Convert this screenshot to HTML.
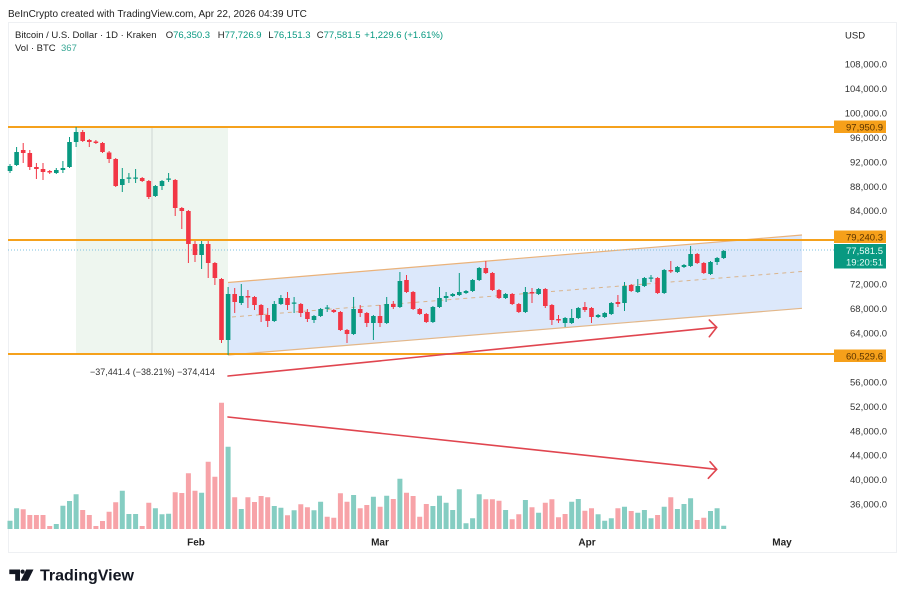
<!DOCTYPE html>
<html><head><meta charset="utf-8"><style>
html,body{margin:0;padding:0;background:#fff;}
svg{display:block;}
text{font-family:"Liberation Sans",sans-serif;}
</style></head><body>
<svg width="905" height="600" viewBox="0 0 905 600" xmlns="http://www.w3.org/2000/svg">
<rect x="0" y="0" width="905" height="600" fill="#fff"/>
<text x="8" y="17" font-size="10" fill="#222">BeInCrypto created with TradingView.com, Apr 22, 2026 04:39 UTC</text>
<rect x="8.5" y="22.5" width="888" height="530" fill="none" stroke="#eef0f3" stroke-width="1"/>

<!-- green zone -->
<rect x="76" y="127" width="152" height="227" fill="#eef6ef"/>
<line x1="152" y1="127" x2="152" y2="354" stroke="#cdd6d3" stroke-width="1"/>

<!-- channel -->
<polygon points="228,282.5 802,235 802,308.3 228,355" fill="#dce8fb"/>
<line x1="228" y1="282.5" x2="802" y2="235" stroke="#eab27a" stroke-width="1.2"/>
<line x1="228" y1="355" x2="802" y2="308.3" stroke="#e3b789" stroke-width="1.2"/>
<line x1="232" y1="317" x2="802" y2="271.5" stroke="#d9b48c" stroke-width="1" stroke-dasharray="4 4"/>

<!-- horizontal lines -->
<line x1="8" y1="127" x2="834" y2="127" stroke="#f5a11c" stroke-width="2"/>
<line x1="8" y1="240" x2="834" y2="240" stroke="#f5a11c" stroke-width="2"/>
<line x1="8" y1="354" x2="834" y2="354" stroke="#f5a11c" stroke-width="2"/>
<line x1="8" y1="250" x2="834" y2="250" stroke="#7fc0dc" stroke-width="1" stroke-dasharray="1 2"/>

<!-- volume -->
<path fill="#85cdc2" d="M7.5 520.7h5V529h-5zM14.1 508.3h5V529h-5zM53.8 524h5V529h-5zM60.4 505.7h5V529h-5zM67 501h5V529h-5zM73.6 494.3h5V529h-5zM119.8 490.7h5V529h-5zM126.4 514h5V529h-5zM133.1 514h5V529h-5zM152.9 508.3h5V529h-5zM159.5 514.3h5V529h-5zM166.1 513.7h5V529h-5zM199.1 492.7h5V529h-5zM225.6 446.7h5V529h-5zM238.8 509h5V529h-5zM271.8 506h5V529h-5zM278.4 507.7h5V529h-5zM291.6 510.3h5V529h-5zM311.5 510.3h5V529h-5zM318.1 501.7h5V529h-5zM351.1 495h5V529h-5zM370.9 496.7h5V529h-5zM384.2 495.7h5V529h-5zM397.4 478.7h5V529h-5zM430.4 506h5V529h-5zM437 495.7h5V529h-5zM443.6 502.7h5V529h-5zM450.2 510h5V529h-5zM456.8 489.3h5V529h-5zM463.5 523.3h5V529h-5zM470.1 518.3h5V529h-5zM476.7 494.3h5V529h-5zM503.1 510h5V529h-5zM522.9 500h5V529h-5zM536.1 512.7h5V529h-5zM569.2 501.7h5V529h-5zM575.8 499h5V529h-5zM595.6 514.3h5V529h-5zM602.2 520.7h5V529h-5zM608.8 518.3h5V529h-5zM622 506.7h5V529h-5zM635.3 512.7h5V529h-5zM641.9 510h5V529h-5zM648.5 518.3h5V529h-5zM661.7 506.7h5V529h-5zM674.9 509h5V529h-5zM681.5 504h5V529h-5zM688.1 498.3h5V529h-5zM708 511h5V529h-5zM714.6 508.3h5V529h-5zM721.2 525.7h5V529h-5z"/>
<path fill="#f7a3a8" d="M20.7 509.3h5V529h-5zM27.3 515h5V529h-5zM33.9 515h5V529h-5zM40.5 515h5V529h-5zM47.2 526h5V529h-5zM80.2 510h5V529h-5zM86.8 515h5V529h-5zM93.4 526h5V529h-5zM100 521h5V529h-5zM106.6 511.7h5V529h-5zM113.2 502.3h5V529h-5zM139.7 526h5V529h-5zM146.3 502.7h5V529h-5zM172.7 492.3h5V529h-5zM179.3 493h5V529h-5zM185.9 473.3h5V529h-5zM192.5 490.7h5V529h-5zM205.7 461.7h5V529h-5zM212.4 476.7h5V529h-5zM219 402.7h5V529h-5zM232.2 497.3h5V529h-5zM245.4 497.3h5V529h-5zM252 502h5V529h-5zM258.6 496h5V529h-5zM265.2 497.3h5V529h-5zM285 515.3h5V529h-5zM298.3 504.3h5V529h-5zM304.9 507.3h5V529h-5zM324.7 516.7h5V529h-5zM331.3 517.7h5V529h-5zM337.9 493.3h5V529h-5zM344.5 501.7h5V529h-5zM357.7 508.3h5V529h-5zM364.3 505h5V529h-5zM377.6 506.7h5V529h-5zM390.8 499h5V529h-5zM404 492.7h5V529h-5zM410.6 496h5V529h-5zM417.2 516.7h5V529h-5zM423.8 504h5V529h-5zM483.3 499.3h5V529h-5zM489.9 499.3h5V529h-5zM496.5 500.7h5V529h-5zM509.7 519.3h5V529h-5zM516.3 514.3h5V529h-5zM529.5 507.3h5V529h-5zM542.8 502.7h5V529h-5zM549.4 499.3h5V529h-5zM556 517.3h5V529h-5zM562.6 514h5V529h-5zM582.4 510.7h5V529h-5zM589 508.3h5V529h-5zM615.4 508.3h5V529h-5zM628.7 511h5V529h-5zM655.1 515h5V529h-5zM668.3 497.3h5V529h-5zM694.7 520h5V529h-5zM701.3 517.7h5V529h-5z"/>

<!-- candles green -->
<path stroke="#089981" stroke-width="1" fill="none" d="M10 164V173M16.6 147V166M56.3 168V174M62.9 161V173M69.5 137V168M76.1 127V147M122.3 168V192M128.9 173V183M135.6 169V183M155.4 185V197M162 180V190M168.6 173V182M201.6 241V269M228.1 287V355M241.3 284V305M274.3 301V322M280.9 295V305M294.1 297V313M314 315V323M320.6 308V317M327.2 305V312M353.6 297V335M373.4 315V340M386.7 297V324M399.9 272V308M432.9 306V323M439.5 287V308M446.1 292V302M452.7 293V297M459.3 273V296M466 290V294M472.6 279V292M479.2 267V281M505.6 293V299M525.4 287V313M538.6 288V295M565.1 317V327M571.7 309V324M578.3 307V319M598.1 314V318M604.7 312V318M611.3 302V315M624.5 282V311M637.8 279V293M644.4 277V287M651 275V282M664.2 269V294M677.4 266V273M684 264V268M690.6 246V267M710.5 261V275M717.1 257V265M723.7 250V259"/>
<path fill="#089981" d="M7.7 166h4.6V171h-4.6zM14.3 152h4.6V165h-4.6zM54 170h4.6V173h-4.6zM60.6 168h4.6V170h-4.6zM67.2 142h4.6V167h-4.6zM73.8 132h4.6V142h-4.6zM120 179h4.6V185h-4.6zM126.6 177.5h4.6V178.8h-4.6zM133.3 177.5h4.6V178.8h-4.6zM153.1 186h4.6V196h-4.6zM159.7 181h4.6V186h-4.6zM166.3 178.5h4.6V179.8h-4.6zM199.3 244h4.6V255h-4.6zM225.8 294h4.6V340h-4.6zM239 296h4.6V303h-4.6zM272 304h4.6V321h-4.6zM278.6 298h4.6V304h-4.6zM291.8 302.5h4.6V303.8h-4.6zM311.7 316h4.6V320h-4.6zM318.3 309h4.6V316h-4.6zM324.9 307.5h4.6V308.8h-4.6zM351.3 309h4.6V334h-4.6zM371.1 316h4.6V323h-4.6zM384.4 304h4.6V323h-4.6zM397.6 281h4.6V307h-4.6zM430.6 307h4.6V322h-4.6zM437.2 298h4.6V307h-4.6zM443.8 296h4.6V298h-4.6zM450.4 294h4.6V296h-4.6zM457 292h4.6V295h-4.6zM463.7 291h4.6V293h-4.6zM470.3 280h4.6V291h-4.6zM476.9 268h4.6V280h-4.6zM503.3 294h4.6V298h-4.6zM523.1 292h4.6V312h-4.6zM536.3 289h4.6V294h-4.6zM562.8 318h4.6V323h-4.6zM569.4 318h4.6V323h-4.6zM576 308h4.6V318h-4.6zM595.8 315h4.6V317h-4.6zM602.4 313h4.6V317h-4.6zM609 303h4.6V314h-4.6zM622.2 286h4.6V303h-4.6zM635.5 286h4.6V292h-4.6zM642.1 278h4.6V286h-4.6zM648.7 277.5h4.6V278.8h-4.6zM661.9 270h4.6V293h-4.6zM675.1 267h4.6V272h-4.6zM681.7 265h4.6V267h-4.6zM688.3 254h4.6V266h-4.6zM708.2 262h4.6V274h-4.6zM714.8 258h4.6V262h-4.6zM721.4 251h4.6V258h-4.6z"/>
<!-- candles red -->
<path stroke="#f23645" stroke-width="1" fill="none" d="M23.2 143V163M29.8 150V170M36.4 163V179M43 163V180M49.7 170V174M82.7 130V142M89.3 139V147M95.9 140V144M102.5 142V153M109.1 151V163M115.7 158V187M142.2 177V182M148.8 180V199M175.2 179V216M181.8 207V229M188.4 210V263M195 241V262M208.2 241V278M214.9 262V285M221.5 278V343M234.7 288V313M247.9 290V308M254.5 296V310M261.1 304V322M267.7 308V327M287.5 292V310M300.8 303V317M307.4 309V322M333.8 309V313M340.4 311V331M347 329V343M360.2 305V317M366.8 312V327M380 305V327M393.3 301V309M406.5 275V293M413.1 291V310M419.7 308V315M426.3 313V323M485.8 261V274M492.4 272V291M499 289V299M512.2 293V305M518.8 303V313M532 288V303M545.3 288V308M551.9 304V325M558.5 315V323M584.9 302V312M591.5 307V323M617.9 295V307M631.2 284V292M657.6 277V294M670.8 261V273M697.2 253V264M703.8 262V274"/>
<path fill="#f23645" d="M20.9 150h4.6V153h-4.6zM27.5 153h4.6V167h-4.6zM34.1 167h4.6V169h-4.6zM40.7 169h4.6V172h-4.6zM47.4 171h4.6V172.5h-4.6zM80.4 132h4.6V141h-4.6zM87 140h4.6V142h-4.6zM93.6 141.5h4.6V143h-4.6zM100.2 143h4.6V152h-4.6zM106.8 152.5h4.6V159h-4.6zM113.4 159h4.6V186h-4.6zM139.9 178h4.6V181h-4.6zM146.5 181h4.6V197h-4.6zM172.9 180h4.6V208h-4.6zM179.5 208h4.6V211h-4.6zM186.1 211h4.6V244h-4.6zM192.7 244h4.6V255h-4.6zM205.9 244h4.6V263h-4.6zM212.6 263h4.6V278h-4.6zM219.2 279h4.6V340h-4.6zM232.4 294h4.6V302h-4.6zM245.6 296h4.6V297.5h-4.6zM252.2 297h4.6V305h-4.6zM258.8 305h4.6V315h-4.6zM265.4 315h4.6V321h-4.6zM285.2 298h4.6V305h-4.6zM298.5 304h4.6V313h-4.6zM305.1 312h4.6V319h-4.6zM331.5 310h4.6V312h-4.6zM338.1 312h4.6V330h-4.6zM344.7 330h4.6V334h-4.6zM357.9 309h4.6V313h-4.6zM364.5 313h4.6V323h-4.6zM377.7 316h4.6V323h-4.6zM391 304h4.6V307h-4.6zM404.2 280h4.6V292h-4.6zM410.8 292h4.6V309h-4.6zM417.4 309h4.6V314h-4.6zM424 314h4.6V322h-4.6zM483.5 268h4.6V273h-4.6zM490.1 273h4.6V290h-4.6zM496.7 290h4.6V298h-4.6zM509.9 294h4.6V304h-4.6zM516.5 304h4.6V312h-4.6zM529.7 292h4.6V293.5h-4.6zM543 289h4.6V306h-4.6zM549.6 305h4.6V320h-4.6zM556.2 319h4.6V320.5h-4.6zM582.6 307h4.6V310h-4.6zM589.2 308h4.6V317h-4.6zM615.6 302h4.6V304h-4.6zM628.9 285h4.6V291h-4.6zM655.3 278h4.6V293h-4.6zM668.5 270h4.6V271.5h-4.6zM694.9 254h4.6V263h-4.6zM701.5 263h4.6V273h-4.6z"/>

<!-- arrows -->
<g stroke="#e0454f" stroke-width="1.6" fill="none" stroke-linecap="round">
<line x1="228" y1="376" x2="716.5" y2="327.3"/>
<polyline points="709.3,320 716.7,327.3 709.3,336.7"/>
<line x1="228" y1="417" x2="716.5" y2="469.3"/>
<polyline points="710,461.7 716.7,469.3 708.3,478.3"/>
</g>
<text x="90" y="375" font-size="9" fill="#333">−37,441.4 (−38.21%) −374,414</text>

<!-- legend -->
<text y="37.8" font-size="9.5" fill="#222"><tspan x="15">Bitcoin / U.S. Dollar · 1D · Kraken</tspan><tspan x="165.7">O</tspan><tspan fill="#089981">76,350.3</tspan><tspan x="217.7">H</tspan><tspan fill="#089981">77,726.9</tspan><tspan x="268.3">L</tspan><tspan fill="#089981">76,151.3</tspan><tspan x="316.7">C</tspan><tspan fill="#089981">77,581.5</tspan><tspan x="364.3" fill="#089981">+1,229.6 (+1.61%)</tspan></text>
<text y="51" font-size="9.5" fill="#222"><tspan x="15">Vol · BTC</tspan><tspan x="61" fill="#3aa896">367</tspan></text>

<!-- right axis -->
<text x="845" y="38.5" font-size="9.5" fill="#222">USD</text>
<g font-size="9.5" fill="#333" text-anchor="end">
<text x="887" y="67.5">108,000.0</text>
<text x="887" y="92">104,000.0</text>
<text x="887" y="116.4">100,000.0</text>
<text x="887" y="140.9">96,000.0</text>
<text x="887" y="165.3">92,000.0</text>
<text x="887" y="189.8">88,000.0</text>
<text x="887" y="214.2">84,000.0</text>
<text x="887" y="287.5">72,000.0</text>
<text x="887" y="312">68,000.0</text>
<text x="887" y="336.5">64,000.0</text>
<text x="887" y="385.4">56,000.0</text>
<text x="887" y="409.8">52,000.0</text>
<text x="887" y="434.3">48,000.0</text>
<text x="887" y="458.7">44,000.0</text>
<text x="887" y="483.2">40,000.0</text>
<text x="887" y="507.6">36,000.0</text>
</g>
<rect x="834" y="120.5" width="52" height="12.5" fill="#f6a01a"/>
<text x="883" y="130.3" font-size="9.5" fill="#5a3300" text-anchor="end">97,950.9</text>
<rect x="834" y="230.5" width="52" height="12.5" fill="#f6a01a"/>
<text x="883" y="240.3" font-size="9.5" fill="#5a3300" text-anchor="end">79,240.3</text>
<rect x="834" y="244" width="52" height="24.5" fill="#089981"/>
<text x="883" y="254" font-size="9.5" fill="#e8fbf6" text-anchor="end">77,581.5</text>
<text x="883" y="265.5" font-size="9.5" fill="#e8fbf6" text-anchor="end">19:20:51</text>
<rect x="834" y="349.5" width="52" height="12.5" fill="#f6a01a"/>
<text x="883" y="359.3" font-size="9.5" fill="#5a3300" text-anchor="end">60,529.6</text>

<!-- time axis -->
<g font-size="10" font-weight="bold" fill="#222" text-anchor="middle">
<text x="196" y="545.5">Feb</text>
<text x="380" y="545.5">Mar</text>
<text x="587" y="545.5">Apr</text>
<text x="782" y="545.5">May</text>
</g>

<!-- logo -->
<g fill="#131722">
<path d="M9.3 569.5h10.7v11.2h-4.8v-6.6h-5.9z"/>
<circle cx="22.6" cy="571.6" r="2.1"/>
<path d="M26.2 569.5h7.3l-5.6 11.2h-7.3z"/>
</g>
<text x="40" y="580.7" font-size="16" font-weight="bold" fill="#131722">TradingView</text>
</svg>
</body></html>
